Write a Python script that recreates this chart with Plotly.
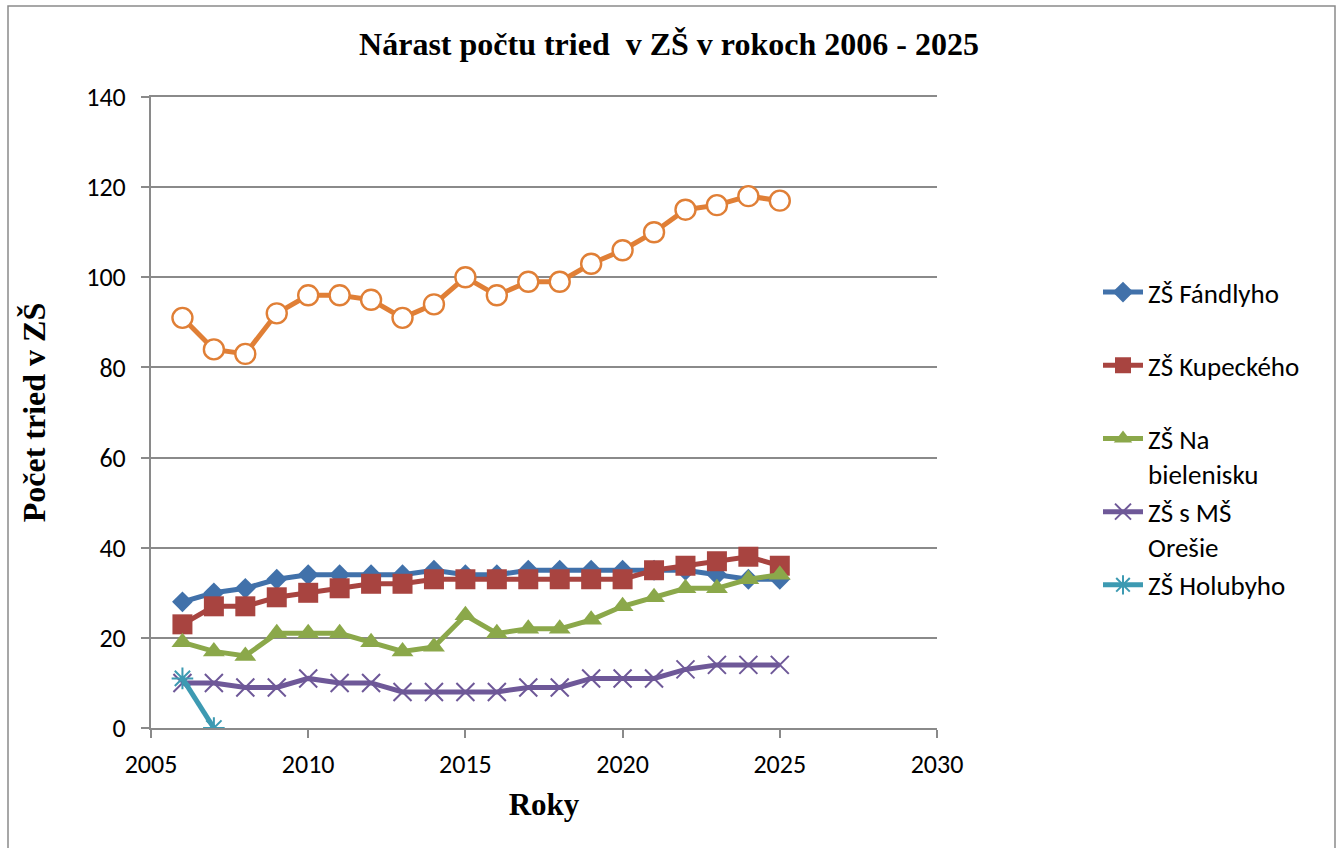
import plotly.graph_objects as go

years = list(range(2006, 2026))
fandlyho = [28, 30, 31, 33, 34, 34, 34, 34, 35, 34, 34, 35, 35, 35, 35, 35, 35, 34, 33, 33]
kupeckeho = [23, 27, 27, 29, 30, 31, 32, 32, 33, 33, 33, 33, 33, 33, 33, 35, 36, 37, 38, 36]
bielenisku = [19, 17, 16, 21, 21, 21, 19, 17, 18, 25, 21, 22, 22, 24, 27, 29, 31, 31, 33, 34]
oresie = [10, 10, 9, 9, 11, 10, 10, 8, 8, 8, 8, 9, 9, 11, 11, 11, 13, 14, 14, 14]
holuby_years = [2006, 2007]
holubyho = [11, 0]
spolu = [91, 84, 83, 92, 96, 96, 95, 91, 94, 100, 96, 99, 99, 103, 106, 110, 115, 116, 118, 117]

W, H = 1341, 848
L, R, T, B = 151, 937, 97, 728

serif = "Liberation Serif, Times New Roman, serif"
sans = "Carlito, Calibri, Open Sans, sans-serif"
grid = "#8a8a8a"

fig = go.Figure()

fig.add_trace(go.Scatter(
    x=years, y=spolu, mode="lines+markers", name="Spolu", showlegend=False,
    line=dict(color="#E07F36", width=5),
    marker=dict(symbol="circle", size=20, color="white", line=dict(color="#E07F36", width=2.4)),
))
fig.add_trace(go.Scatter(
    x=years, y=fandlyho, mode="lines+markers", name="ZŠ Fándlyho<br> ", legendgroup="a",
    line=dict(color="#4171AA", width=5),
    marker=dict(symbol="diamond", size=16, color="#4171AA"),
))
fig.add_trace(go.Scatter(
    x=years, y=kupeckeho, mode="lines+markers", name="ZŠ Kupeckého<br> ", legendgroup="b",
    line=dict(color="#A84440", width=5),
    marker=dict(symbol="square", size=20, color="#A84440"),
))
fig.add_trace(go.Scatter(
    x=years, y=bielenisku, mode="lines+markers", name="ZŠ Na<br>bielenisku", legendgroup="c",
    line=dict(color="#8BA84A", width=5),
    marker=dict(symbol="triangle-up", size=19, color="#8BA84A"),
))
fig.add_trace(go.Scatter(
    x=years, y=oresie, mode="lines+markers", name="ZŠ s MŠ<br>Orešie", legendgroup="d",
    line=dict(color="#6E5898", width=5),
    marker=dict(symbol="x-thin", size=18, color="#6E5898", line=dict(color="#6E5898", width=2)),
))
fig.add_trace(go.Scatter(
    x=holuby_years, y=holubyho, mode="lines+markers", name="ZŠ Holubyho<br> ", legendgroup="e",
    line=dict(color="#3D9AB2", width=5),
    marker=dict(symbol="asterisk", size=18, color="#3D9AB2", line=dict(color="#3D9AB2", width=2)),
))

pw, ph = R - L, B - T
def px(x):
    return (x - L) / pw
def py(y):
    return (B - y) / ph

fig.add_shape(type="rect", xref="paper", yref="paper",
              x0=px(8), x1=px(1335), y0=py(852), y1=py(6),
              line=dict(color="#8a8a8a", width=1.5), fillcolor="rgba(0,0,0,0)", layer="below")

fig.update_layout(
    width=W, height=H,
    margin=dict(l=L, r=W - R, t=T, b=H - B),
    paper_bgcolor="white", plot_bgcolor="white",
    title=dict(text="<b>Nárast počtu tried  v ZŠ v rokoch 2006 - 2025</b>",
               x=669 / W, xref="container", xanchor="center",
               y=1 - 44 / H, yref="container", yanchor="middle",
               font=dict(family=serif, size=32, color="black")),
    xaxis=dict(range=[2005, 2030], dtick=5, tick0=2005, showgrid=False,
               showline=True, linecolor=grid, linewidth=2, mirror=True,
               ticks="outside", ticklen=8, tickwidth=2, tickcolor=grid,
               ticklabelstandoff=4,
               tickfont=dict(family=sans, size=26, color="black"),
               title=dict(text="<b>Roky</b>", font=dict(family=serif, size=31, color="black"), standoff=14),
               zeroline=False),
    yaxis=dict(range=[0, 140], dtick=20, showgrid=True, gridcolor=grid, gridwidth=2,
               showline=True, linecolor=grid, linewidth=2,
               ticks="outside", ticklen=8, tickwidth=2, tickcolor=grid,
               ticklabelstandoff=10,
               tickfont=dict(family=sans, size=26, color="black"),
               title=dict(text="<b>Počet tried v ZŠ</b>", font=dict(family=serif, size=32, color="black"), standoff=31),
               zeroline=False),
    legend=dict(x=px(1098), y=py(268), xanchor="left", yanchor="top",
                font=dict(family=sans, size=27, color="black"),
                tracegroupgap=0, itemwidth=40, valign="top",
                bgcolor="rgba(0,0,0,0)"),
)

fig.write_html("out.html", config={"displayModeBar": False},
               post_script="document.body.style.margin='0';")
